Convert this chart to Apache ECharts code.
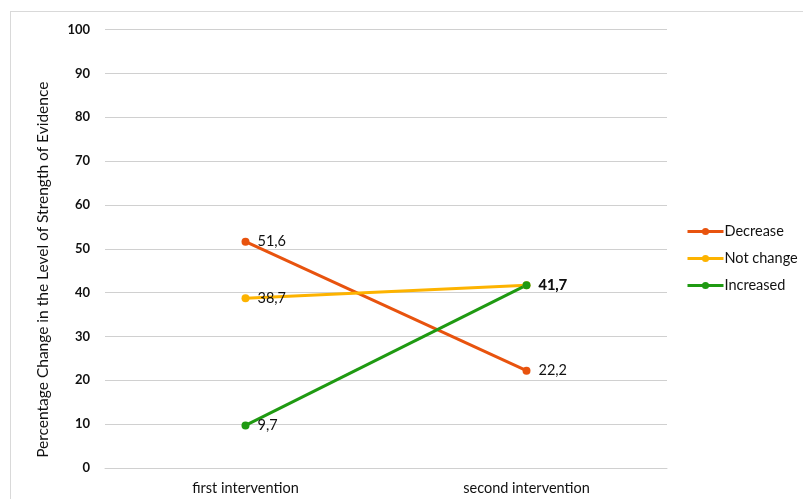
<!DOCTYPE html>
<html>
<head>
<meta charset="utf-8">
<script src="https://cdn.jsdelivr.net/npm/echarts@6/dist/echarts.min.js"></script>
<style>
  html, body { margin: 0; padding: 0; background: #fff; }
  #frame { position: absolute; left: 10px; top: 11px; width: 820px; height: 520px; border: 1px solid #d9d9d9; box-sizing: border-box; }
  #chart { position: absolute; left: 0; top: 0; width: 803px; height: 499px; }
</style>
</head>
<body>
<div id="frame"></div>
<div id="chart"></div>
<script>
// Categories and series values
const categories = ['first intervention', 'second intervention'];
const seriesNames = ['Decrease', 'Not change', 'Increased'];
const decreaseValues = [51.6, 22.2];
const notChangeValues = [38.7, 41.7];
const increasedValues = [9.7, 41.7];
const yTicks = [0, 10, 20, 30, 40, 50, 60, 70, 80, 90, 100];

const colors = ['#E8530E', '#FDB300', '#1F9A12'];
const fontFamily = 'Lato, "Open Sans", sans-serif';
const textColor = '#111';

const chart = echarts.init(document.getElementById('chart'), null, { renderer: 'canvas' });

function commaLabel(p) {
  return p.value.toFixed(1).replace('.', ',');
}

function makeSeries(name, values, color, labelBold) {
  return {
    name: name,
    type: 'line',
    data: values,
    symbol: 'circle',
    symbolSize: 8,
    lineStyle: { color: color, width: 3 },
    itemStyle: { color: color },
    label: {
      show: true,
      position: 'right',
      distance: 8,
      color: textColor,
      fontFamily: fontFamily,
      fontSize: 14.5,
      formatter: function (p) {
        const txt = commaLabel(p);
        return labelBold && labelBold[p.dataIndex] ? '{b|' + txt + '}' : txt;
      },
      rich: { b: { fontWeight: 'bold', fontSize: 14.5, fontFamily: fontFamily, color: textColor } }
    },
    emphasis: { disabled: true },
    animation: false
  };
}

const option = {
  animation: false,
  color: colors,
  grid: { left: 105, right: 136, top: 29.5, bottom: 31 },
  legend: {
    orient: 'vertical',
    left: 681,
    top: 219,
    itemWidth: 36,
    itemHeight: 9,
    itemGap: 12,
    itemStyle: { borderWidth: 0 },
    lineStyle: { width: 3 },
    data: seriesNames.map(function (n, i) {
      return { name: n, itemStyle: { color: colors[i] } };
    }),
    textStyle: { fontFamily: fontFamily, fontSize: 14.5, color: textColor, padding: [0, 0, 0, -4] }
  },
  xAxis: {
    type: 'category',
    data: categories,
    boundaryGap: true,
    axisLine: { show: true, lineStyle: { color: '#d0d0d0', width: 1 } },
    axisTick: { show: false },
    axisLabel: { fontFamily: fontFamily, fontSize: 14.5, color: textColor, margin: 13 }
  },
  yAxis: {
    type: 'value',
    min: yTicks[0],
    max: yTicks[yTicks.length - 1],
    interval: 10,
    name: 'Percentage Change in the Level of Strength of Evidence',
    nameLocation: 'middle',
    nameGap: 54,
    nameRotate: 90,
    nameTextStyle: { fontFamily: fontFamily, fontSize: 15.5, color: textColor, padding: [0, 42, 0, 0] },
    axisLine: { show: false },
    axisTick: { show: false },
    splitLine: { lineStyle: { color: '#d0d0d0', width: 1 } },
    axisLabel: { fontFamily: fontFamily, fontSize: 13, fontWeight: 'bold', color: textColor, margin: 15 }
  },
  series: [
    makeSeries(seriesNames[0], decreaseValues, colors[0]),
    makeSeries(seriesNames[1], notChangeValues, colors[1]),
    makeSeries(seriesNames[2], increasedValues, colors[2], [false, true])
  ]
};

chart.setOption(option);
</script>
</body>
</html>
